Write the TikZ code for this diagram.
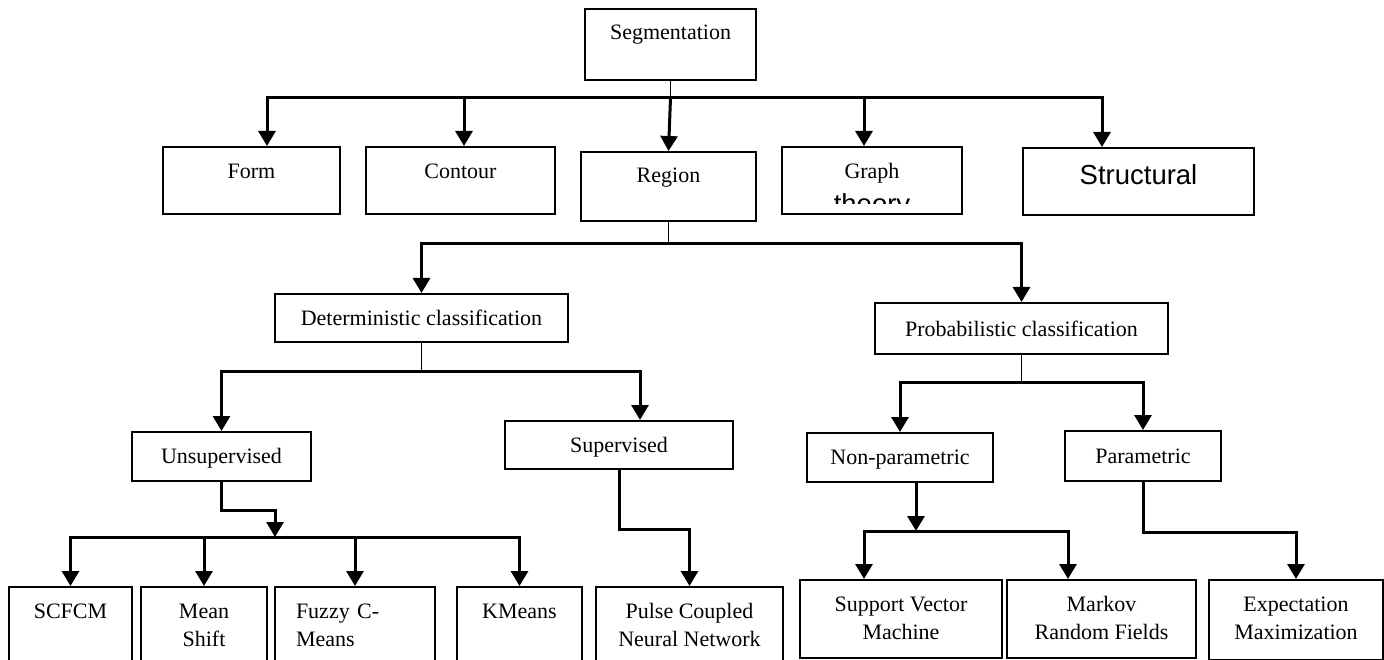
\documentclass[tikz,border=0pt]{standalone}
\usepackage{fontspec}
\setmainfont{Liberation Serif}
\newfontfamily\arialfont{Liberation Sans}
\usetikzlibrary{arrows.meta,calc}
\tikzset{
  box/.style={draw, line width=2pt, inner sep=0pt, anchor=north, align=center,
    text height=31pt, font=\fontsize{22}{28}\selectfont},
  twoline/.style={text height=59pt},
  sansbox/.style={font=\arialfont\fontsize{27.5}{33}\selectfont},
  stem/.style={line width=1.3pt},
  arr/.style={-{Triangle[length=15pt,width=17pt]}, line width=3pt},
}

\begin{document}
\begin{tikzpicture}[x=1pt, y=-1pt]
  \useasboundingbox (0,0) rectangle (1384,660);

  % top level
  \node[box, minimum width=171pt, text depth=40pt] (seg) at (670.5,8) {Segmentation};
  \node[box, minimum width=177pt, text height=32pt, text depth=35pt] (form) at (251.5,146) {Form};
  \node[box, minimum width=189pt, text height=32pt, text depth=35pt] (contour) at (460.5,146) {Contour};
  \node[box, minimum width=175pt, text depth=38pt] (region) at (668.5,151) {Region};
  \node[box, minimum width=180pt, text height=32pt, text depth=35pt] (graph) at (872,146) {Graph};
  \node[box, sansbox, minimum width=231pt, text height=37pt, text depth=30pt] (struct) at (1138.5,147) {Structural};
  \begin{scope}
    \clip (graph.north west) rectangle ([yshift=11pt]graph.south east);
    \node[sansbox, anchor=base, inner sep=0pt] (theory) at ([yshift=1pt]graph.south) {theory};
  \end{scope}

  % classification
  \node[box, minimum width=293pt, text depth=17pt] (det) at (421.5,293) {Deterministic classification};
  \node[box, minimum width=293pt, text height=33pt, text depth=18pt] (prob) at (1021.5,302) {Probabilistic classification};
  \node[box, minimum width=179pt, text depth=18pt] (unsup) at (221.5,431) {Unsupervised};
  \node[box, minimum width=228pt, text depth=17pt] (sup) at (619,420) {Supervised};
  \node[box, minimum width=186pt, text depth=18pt] (nonpar) at (900,432) {Non-parametric};
  \node[box, minimum width=156pt, text height=32pt, text depth=18pt] (par) at (1143,430) {Parametric};

  % methods
  \node[box, minimum width=123pt, text depth=45pt] (scfcm) at (70.5,586) {SCFCM};
  \node[box, twoline, minimum width=126pt, text depth=17pt] (mean) at (204,586) {Mean\\Shift};
  \node[box, minimum width=160pt, text width=118pt, inner xsep=21pt, align=left, text depth=45pt] (fuzzy) at (355,586) {Fuzzy C-\\Means};
  \node[box, minimum width=125pt, text depth=45pt] (kmeans) at (519.5,586) {KMeans};
  \node[box, twoline, minimum width=187pt, text depth=17pt] (pcnn) at (689.5,586) {Pulse Coupled\\Neural Network};
  \node[box, twoline, minimum width=202pt, text depth=19pt] (svm) at (901,579) {Support Vector\\Machine};
  \node[box, twoline, minimum width=189pt, text depth=19pt] (markov) at (1101.5,579) {Markov\\Random Fields};
  \node[box, twoline, minimum width=174pt, text depth=21pt] (em) at (1296,579) {Expectation\\Maximization};

  \coordinate (top) at (670.5,98);
  \coordinate (rbar) at (668.5,244);
  \coordinate (dbar) at (421.5,371);
  \coordinate (pbar) at (1021.5,382);
  \coordinate (ubar) at (275,537);
  \coordinate (nbar) at (916,531);

  \draw[stem] (seg) -- (top);
  \draw[arr] (top) -| ([xshift=15.5pt]form.north);
  \draw[arr] (top) -| ([xshift=-36.5pt]struct.north);
  \draw[arr] ([xshift=3.5pt]contour.north |- top) -- ([xshift=3.5pt]contour.north);
  \draw[arr] ([xshift=-8pt]graph.north |- top) -- ([xshift=-8pt]graph.north);
  \draw[arr] (top) -- (region.north);

  \draw[stem] (region) -- (rbar);
  \draw[arr] (rbar) -| (det);
  \draw[arr] (rbar) -| (prob);

  \draw[stem] (det) -- (dbar);
  \draw[arr] (dbar) -| (unsup);
  \draw[arr] (dbar) -| ([xshift=21pt]sup.north);

  \draw[stem] (prob) -- (pbar);
  \draw[arr] (pbar) -| (nonpar);
  \draw[arr] (pbar) -| (par);

  \draw[arr] (unsup.south) -- ++(0,28) -| (ubar);
  \draw[arr] (ubar) -| (scfcm);
  \draw[arr] (ubar) -| (kmeans);
  \draw[arr] (ubar -| mean) -- (mean);
  \draw[arr] (ubar -| fuzzy) -- (fuzzy);

  \draw[arr] (sup.south) -- ++(0,59) -| (pcnn);

  \draw[arr] ([xshift=16pt]nonpar.south) -- (nbar);
  \draw[arr] (nbar) -| ([xshift=-37pt]svm.north);
  \draw[arr] (nbar) -| ([xshift=-33.5pt]markov.north);

  \draw[arr] (par.south) -- ++(0,50) -| (em);
\end{tikzpicture}
\end{document}
